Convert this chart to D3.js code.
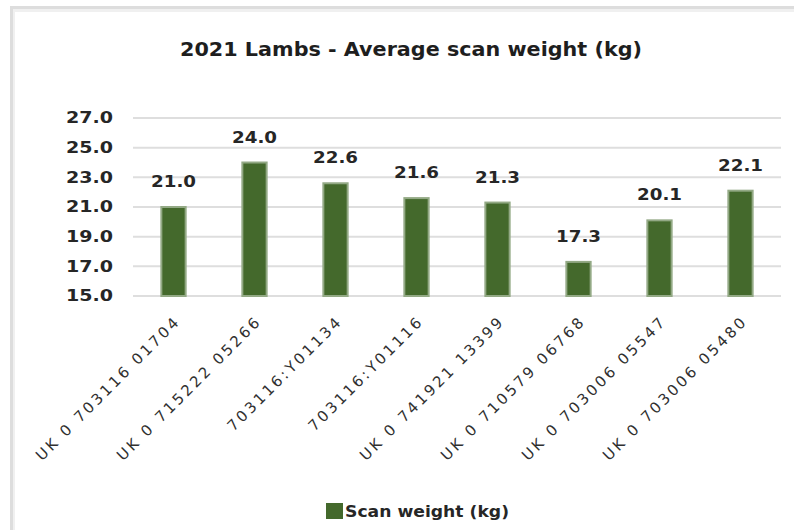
<!DOCTYPE html>
<html lang="en">
<head>
	<meta charset="UTF-8"/>
	<title>2021 Lambs - Average scan weight</title>
	<script src="https://d3js.org/d3.v7.min.js"></script>
	<style>
		body { margin: 0; background: #fff; }
		text { font-family: "DejaVu Sans", "Liberation Sans", Arial, sans-serif; }
		.grid line { stroke: #dedede; stroke-width: 2; }
		.bar { fill: #44692c; stroke: #93a985; stroke-width: 2; }
		.val { font-weight: bold; font-size: 15px; fill: #262626; }
		.ytick { font-weight: bold; font-size: 15px; fill: #262626; }
		.xlab { font-size: 15px; fill: #303030; letter-spacing: 2.8px; }
	</style>
</head>
<body>
	<div id="chart"></div>

	<script>
	var w = 794;
	var h = 530;

	// data
	var lambs = ["UK 0 703116 01704", "UK 0 715222 05266", "703116:Y01134", "703116:Y01116",
		"UK 0 741921 13399", "UK 0 710579 06768", "UK 0 703006 05547", "UK 0 703006 05480"];
	var scanWeight = [21.0, 24.0, 22.6, 21.6, 21.3, 17.3, 20.1, 22.1];
	var yTicks = [15, 17, 19, 21, 23, 25, 27];
	var seriesName = "Scan weight (kg)";
	var chartTitle = "2021 Lambs - Average scan weight (kg)";

	var dataset = lambs.map(function(d, i){
		return {lamb: d, weight: scanWeight[i]};
	});

	var svg = d3.select("#chart")
				.append("svg")
				.attr("width", w)
				.attr("height", h);

	// chart frame (grey border top and left)
	svg.append("line").attr("x1", 10).attr("x2", w).attr("y1", 7.5).attr("y2", 7.5)
		.attr("stroke", "#dddddd").attr("stroke-width", 3);
	svg.append("line").attr("x1", 10).attr("x2", w).attr("y1", 10.5).attr("y2", 10.5)
		.attr("stroke", "#f0f0f0").attr("stroke-width", 3);
	svg.append("line").attr("x1", 11.5).attr("x2", 11.5).attr("y1", 6).attr("y2", h)
		.attr("stroke", "#dddddd").attr("stroke-width", 3);
	svg.append("line").attr("x1", 14).attr("x2", 14).attr("y1", 9).attr("y2", h)
		.attr("stroke", "#f0f0f0").attr("stroke-width", 2);

	svg.append("text")
		.attr("x", 411)
		.attr("y", 56)
		.attr("text-anchor", "middle")
		.attr("font-size", 19)
		.attr("font-weight", "bold")
		.attr("fill", "#1e1e1e")
		.attr("textLength", 462)
		.attr("lengthAdjust", "spacingAndGlyphs")
		.text(chartTitle);

	var xScale = d3.scaleBand()
				.domain(lambs)
				.range([133, 781])
				.paddingInner(0.7)
				.paddingOuter(0.35);

	var yScale = d3.scaleLinear()
				.domain([15, 27])
				.range([296, 118]);

	// gridlines
	svg.append("g")
		.attr("class", "grid")
		.selectAll("line")
		.data(yTicks)
		.enter()
		.append("line")
		.attr("x1", 133)
		.attr("x2", 781)
		.attr("y1", function(d){ return yScale(d); })
		.attr("y2", function(d){ return yScale(d); });

	// y axis labels
	var yAxis = d3.axisLeft(yScale)
				.tickValues(yTicks)
				.tickFormat(d3.format(".1f"))
				.tickSize(0)
				.tickPadding(0);

	var gy = svg.append("g")
		.attr("transform", "translate(113,0)")
		.call(yAxis);
	gy.select(".domain").remove();
	gy.selectAll("text")
		.attr("class", "ytick")
		.attr("font-family", null)
		.attr("font-size", null)
		.attr("fill", null)
		.attr("textLength", 47)
		.attr("lengthAdjust", "spacingAndGlyphs");

	// bars
	svg.selectAll("rect.bar")
		.data(dataset)
		.enter()
		.append("rect")
		.attr("class", "bar")
		.attr("x", function(d){ return xScale(d.lamb); })
		.attr("y", function(d){ return yScale(d.weight); })
		.attr("width", xScale.bandwidth())
		.attr("height", function(d){ return yScale(15) - yScale(d.weight); });

	// value labels
	svg.selectAll("text.val")
		.data(dataset)
		.enter()
		.append("text")
		.attr("class", "val")
		.attr("x", function(d){ return xScale(d.lamb) + xScale.bandwidth() / 2; })
		.attr("y", function(d){ return yScale(d.weight) - 20; })
		.attr("text-anchor", "middle")
		.attr("textLength", 45)
		.attr("lengthAdjust", "spacingAndGlyphs")
		.text(function(d){ return d.weight.toFixed(1); });

	// x axis labels
	var xAxis = d3.axisBottom(xScale)
				.tickSize(0)
				.tickPadding(0);

	var gx = svg.append("g")
		.attr("transform", "translate(0,296)")
		.call(xAxis);
	gx.select(".domain").remove();
	gx.selectAll("text")
		.attr("class", "xlab")
		.attr("font-family", null)
		.attr("font-size", null)
		.attr("fill", null)
		.attr("dy", null)
		.attr("y", 0)
		.attr("text-anchor", "end")
		.attr("transform", "translate(8,26) rotate(-45)");

	// legend
	var legend = svg.append("g").attr("transform", "translate(326,503)");
	legend.append("rect")
		.attr("width", 17)
		.attr("height", 16)
		.attr("fill", "#44692c");
	legend.append("text")
		.attr("x", 19)
		.attr("y", 14)
		.attr("font-size", 15)
		.attr("font-weight", "bold")
		.attr("fill", "#262626")
		.attr("textLength", 164)
		.attr("lengthAdjust", "spacingAndGlyphs")
		.text(seriesName);
	</script>
</body>
</html>
